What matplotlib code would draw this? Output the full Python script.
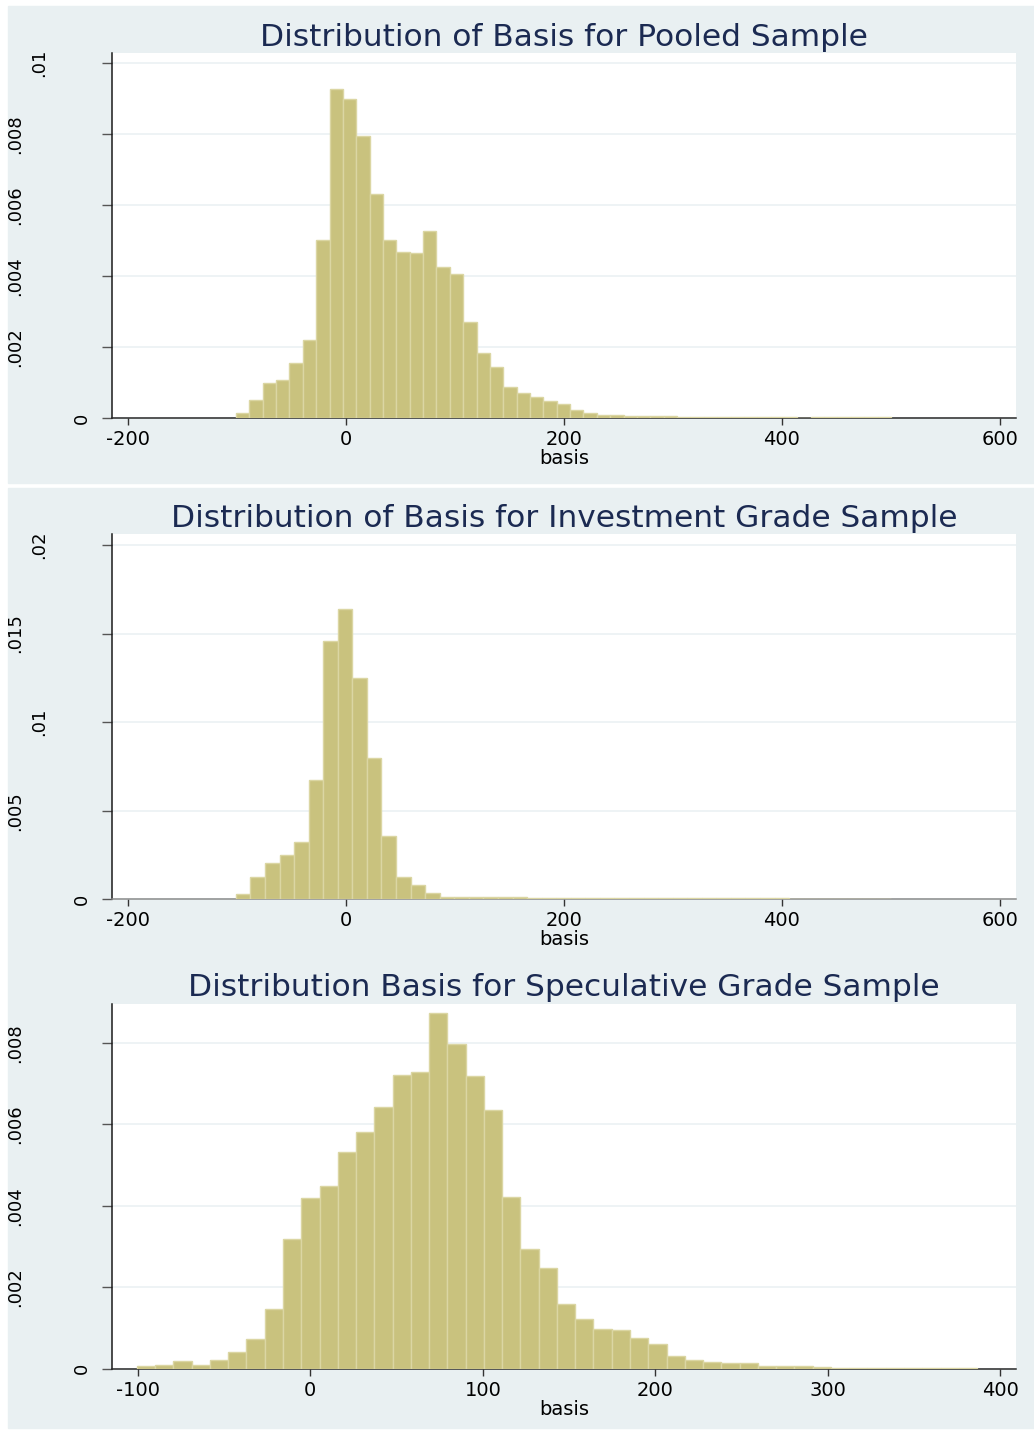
import numpy as np
import matplotlib.pyplot as plt
from matplotlib.patches import Rectangle

plt.rcParams['font.family'] = ['DejaVu Sans']
plt.rcParams['axes.unicode_minus'] = False

# --- data (density per bin) ---
pooled_start, pooled_width = -101.0, 12.265
pooled_density = [0.00015, 0.00051, 0.00098, 0.00107, 0.00156, 0.0022, 0.00501,
                  0.00926, 0.00898, 0.00794, 0.0063, 0.00501, 0.00468, 0.00464,
                  0.00528, 0.00424, 0.00405, 0.0027, 0.00182, 0.00143, 0.00086,
                  0.0007, 0.00058, 0.00048, 0.0004, 0.00022, 0.00013, 0.00009,
                  0.00009, 0.00007, 0.00006, 0.00005, 0.00005, 0.00003, 0.00003,
                  0.00002, 0.00002, 0.00002, 0.00002, 0.00002, 0.00002, 0.00002,
                  0.0, 0.00002, 0.00002, 0.00002, 0.00002, 0.00002, 0.00002]

invest_start, invest_width = -101.0, 13.356
invest_density = [0.0003, 0.00124, 0.00207, 0.00252, 0.00323, 0.00672, 0.0146,
                  0.01637, 0.01249, 0.008, 0.00357, 0.00126, 0.00083, 0.00038,
                  0.00015, 0.00012, 0.00012, 0.00012, 0.00014, 0.00012, 0.0001,
                  0.00008, 0.00008, 0.0001, 0.00008, 0.00006, 0.00006, 0.00008,
                  0.0001, 0.00006, 0.00006, 0.00005, 0.00005, 0.00005, 0.00005,
                  0.00008, 0.00005, 0.00008, 0.0, 0.00004, 0.00004, 0.00004,
                  0.00004, 0.00004, 0.00004]

spec_start, spec_width = -100.6, 10.59
spec_density = [0.000066, 0.00009, 0.0002, 0.0001, 0.00021, 0.00041, 0.00073,
                0.00147, 0.00319, 0.0042, 0.00449, 0.00532, 0.00582, 0.00642,
                0.00721, 0.0073, 0.00873, 0.00798, 0.00719, 0.00636, 0.00421,
                0.00293, 0.00247, 0.00159, 0.00123, 0.00098, 0.00095, 0.00076,
                0.0006, 0.00031, 0.00021, 0.00017, 0.00013, 0.00015, 0.00007,
                0.00006, 0.00007, 0.00003, 0.00002, 0.00002, 0.00002, 0.00002,
                0.00002, 0.00002, 0.00002, 0.00002]

titles = ["Distribution of Basis for Pooled Sample",
          "Distribution of Basis for Investment Grade Sample",
          "Distribution Basis for Speculative Grade Sample"]
xticks_wide = [-200, 0, 200, 400, 600]
xticks_spec = [-100, 0, 100, 200, 300, 400]
yticks_pooled = [0, 0.002, 0.004, 0.006, 0.008, 0.01]
ylabels_pooled = ['0', '.002', '.004', '.006', '.008', '.01']
yticks_invest = [0, 0.005, 0.01, 0.015, 0.02]
ylabels_invest = ['0', '.005', '.01', '.015', '.02']
yticks_spec = [0, 0.002, 0.004, 0.006, 0.008]
ylabels_spec = ['0', '.002', '.004', '.006', '.008']

# --- styling ---
W, H = 1034, 1430
bg = '#e9f0f2'
fill = '#c9c27e'
edge = '#dbd6a3'
title_col = '#1b2a52'
grid_col = '#edf2f5'

fig = plt.figure(figsize=(W / 100, H / 100), dpi=100)
fig.patches.append(Rectangle((8 / W, 1 - 482.7 / H), (W - 8) / W, (482.7 - 6) / H,
                             transform=fig.transFigure, color=bg, zorder=-10))
fig.patches.append(Rectangle((8 / W, 1 - 1428 / H), (W - 8) / W, (1428 - 487.7) / H,
                             transform=fig.transFigure, color=bg, zorder=-10))

# label centre (px from left) depends on label length, like in the source
label_centre = {1: 81, 3: 39, 4: 15}

panels = [
    dict(start=pooled_start, width=pooled_width, dens=pooled_density,
         top=53, bottom=418, xlim=(-214.7, 614.7), ylim_top=0.01028,
         xticks=xticks_wide, yticks=yticks_pooled, ylabels=ylabels_pooled,
         title_base=46, title=titles[0], axis_col='#2a2a2a'),
    dict(start=invest_start, width=invest_width, dens=invest_density,
         top=534.3, bottom=899.3, xlim=(-214.7, 614.7), ylim_top=0.0206,
         xticks=xticks_wide, yticks=yticks_invest, ylabels=ylabels_invest,
         title_base=526.7, title=titles[1], axis_col='#8c8c8c'),
    dict(start=spec_start, width=spec_width, dens=spec_density,
         top=1004, bottom=1368.7, xlim=(-115, 409.1), ylim_top=0.00896,
         xticks=xticks_spec, yticks=yticks_spec, ylabels=ylabels_spec,
         title_base=995.7, title=titles[2], axis_col='#2a2a2a'),
]

for p in panels:
    left, right = 112, 1016
    ax = fig.add_axes([left / W, 1 - p['bottom'] / H, (right - left) / W,
                       (p['bottom'] - p['top']) / H])
    ax.set_facecolor('white')
    n = len(p['dens'])
    edges = p['start'] + p['width'] * np.arange(n)
    ax.bar(edges, p['dens'], width=p['width'], align='edge', color=fill,
           edgecolor=edge, linewidth=1.0, zorder=3)
    ax.set_xlim(*p['xlim'])
    ax.set_ylim(0, p['ylim_top'])
    ax.set_xticks(p['xticks'])
    ax.set_xticklabels([str(t) for t in p['xticks']], fontsize=14)
    ax.set_yticks(p['yticks'])
    ax.set_yticklabels(p['ylabels'], fontsize=13, rotation=90, va='center')
    ax.tick_params(axis='x', length=5, width=1, color='#333333', pad=3.5)
    ax.tick_params(axis='y', length=7.5, width=1, color='#555555')
    for tick, lab in zip(ax.yaxis.get_major_ticks(), p['ylabels']):
        centre = label_centre[len(lab)]
        tick.set_pad((92 - centre) * 0.72)
    ax.yaxis.grid(True, color=grid_col, linewidth=1.3)
    ax.set_axisbelow(True)
    for s in ['top', 'right']:
        ax.spines[s].set_visible(False)
    ax.spines['left'].set_color('#1a1a1a')
    ax.spines['bottom'].set_color(p['axis_col'])
    ax.spines['left'].set_linewidth(1.1)
    ax.spines['bottom'].set_linewidth(1.1)
    ax.set_xlabel('basis', fontsize=14, labelpad=0)
    fig.text(564 / W, 1 - p['title_base'] / H, p['title'], fontsize=22.5,
             color=title_col, ha='center', va='baseline')

fig.savefig('out.png', dpi=100, facecolor='white')
